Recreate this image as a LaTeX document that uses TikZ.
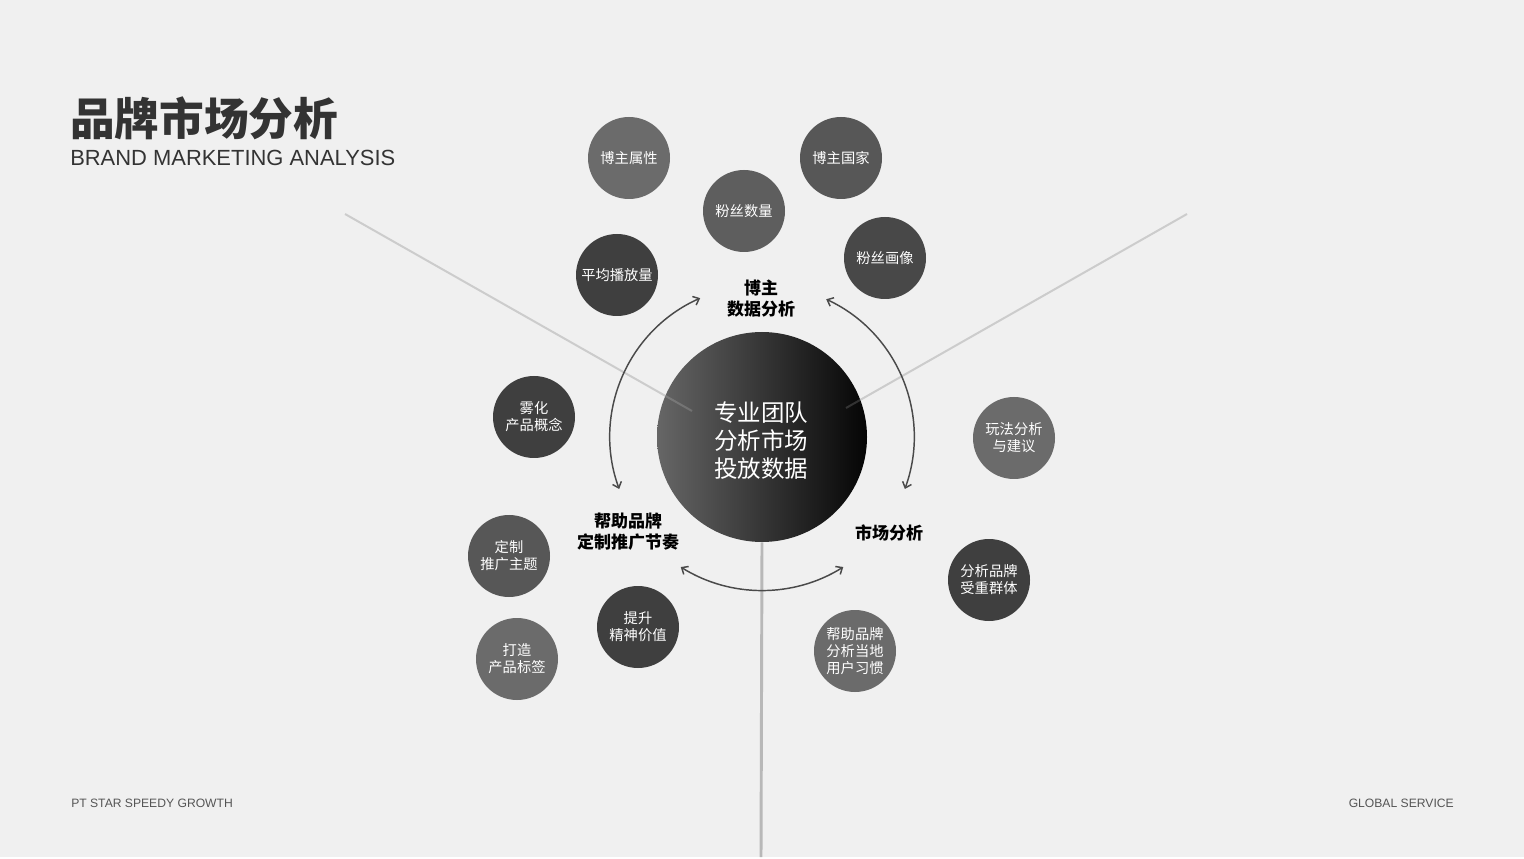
\documentclass[tikz,border=0pt]{standalone}
\usepackage{fontspec}
\setmainfont{Liberation Sans}
\newfontfamily\cjk{Noto Sans CJK SC}
\usetikzlibrary{arrows.meta}
\definecolor{bg}{HTML}{F0F0F0}
\definecolor{titlegray}{HTML}{333333}
\definecolor{footgray}{HTML}{555555}
\definecolor{diagline}{HTML}{CCCCCC}
\definecolor{vertline}{HTML}{B8B8B8}
\definecolor{arcgray}{HTML}{4A4A4A}
\definecolor{cleft}{HTML}{666666}
\definecolor{cright}{HTML}{050505}
\definecolor{gA}{HTML}{6B6B6B}
\definecolor{gB}{HTML}{575757}
\definecolor{gC}{HTML}{5E5E5E}
\definecolor{gD}{HTML}{3F3F3F}
\definecolor{gE}{HTML}{484848}
\begin{document}
\begin{tikzpicture}[x=0.75pt,y=-0.75pt,
  bub/.style={circle,minimum size=61.5pt,inner sep=0pt,text=white,
    font=\cjk\fontsize{10.7}{12.75}\selectfont,align=center},
  lab/.style={inner sep=0pt,text=black,align=center,
    font=\cjk\bfseries\fontsize{12.75}{15.75}\selectfont},
  arcarrow/.style={draw=arcgray,line width=1.1pt,
    {Straight Barb[length=4pt,width=7pt]}-{Straight Barb[length=4pt,width=7pt]}},
  foot/.style={inner sep=0pt,text=footgray,font=\fontsize{9.1}{10}\selectfont}]
% background / bounding box
\fill[bg] (0,0) rectangle (1524,857);
% lines behind the center
\coordinate (l1) at (345,214);
\coordinate (l1e) at (692,411);
\coordinate (r1) at (1187,214);
\coordinate (r1e) at (846,408);
\coordinate (vb) at (761,857);
\draw[diagline,line width=1.5pt] (l1) -- (l1e);
\draw[diagline,line width=1.5pt] (r1) -- (r1e);
% center circle
\node[circle,minimum size=157.5pt,inner sep=0pt,left color=cleft,right color=cright] (c) at (762,437) {};
\draw[vertline,line width=2.2pt] (c.south) -- (vb);
% faint continuation of diagonals over circle
\begin{scope}
  \clip (c.center) circle[radius=78.75pt];
  \draw[white,opacity=0.16,line width=1.5pt] (l1) -- (l1e);
  \draw[white,opacity=0.16,line width=1.5pt] (r1) -- (r1e);
\end{scope}
\node[inner sep=0pt,text=white,align=center,font=\cjk\fontsize{17.6}{21}\selectfont] (ct) at (761,441) {专业团队\\分析市场\\投放数据};
% arcs
\draw[arcarrow] ([shift={(114:114pt)}]c.center) arc[start angle=114,end angle=200,radius=114pt];
\draw[arcarrow] ([shift={(65:114pt)}]c.center) arc[start angle=65,end angle=-20,radius=114pt];
\draw[arcarrow] ([shift={(238:115pt)}]c.center) arc[start angle=238,end angle=302,radius=115pt];
% title
\node[anchor=west,inner sep=0pt,text=titlegray,font=\cjk\bfseries\fontsize{33.5}{34}\selectfont] (title) at (70,118) {品牌市场分析};
\node[anchor=west,inner sep=0pt,text=titlegray,font=\fontsize{16.45}{18}\selectfont] (sub) at (70,158) {BRAND MARKETING ANALYSIS};
% footers
\node[foot,anchor=west] (f1) at (71,803) {PT STAR SPEEDY GROWTH};
\node[foot,anchor=east] (f2) at (1454,803) {GLOBAL SERVICE};
% bold labels
\node[lab] (la) at (761,299) {博主\\数据分析};
\node[lab] (lb) at (628,532) {帮助品牌\\定制推广节奏};
\node[lab] (lc) at (889,533) {市场分析};
% bubbles
\node[bub,fill=gA] (b1) at (629,158) {博主属性};
\node[bub,fill=gB] (b2) at (841,158) {博主国家};
\node[bub,fill=gC] (b3) at (744,211) {粉丝数量};
\node[bub,fill=gD] (b4) at (617,275) {平均播放量};
\node[bub,fill=gE] (b5) at (885,258) {粉丝画像};
\node[bub,fill=gD] (b6) at (534,417) {雾化\\产品概念};
\node[bub,fill=gB] (b7) at (509,556) {定制\\推广主题};
\node[bub,fill=gA] (b8) at (517,659) {打造\\产品标签};
\node[bub,fill=gD] (b9) at (638,627) {提升\\精神价值};
\node[bub,fill=gA] (b10) at (1014,438) {玩法分析\\与建议};
\node[bub,fill=gD] (b11) at (989,580) {分析品牌\\受重群体};
\node[bub,fill=gA] (b12) at (855,651) {帮助品牌\\分析当地\\用户习惯};
\end{tikzpicture}
\end{document}
